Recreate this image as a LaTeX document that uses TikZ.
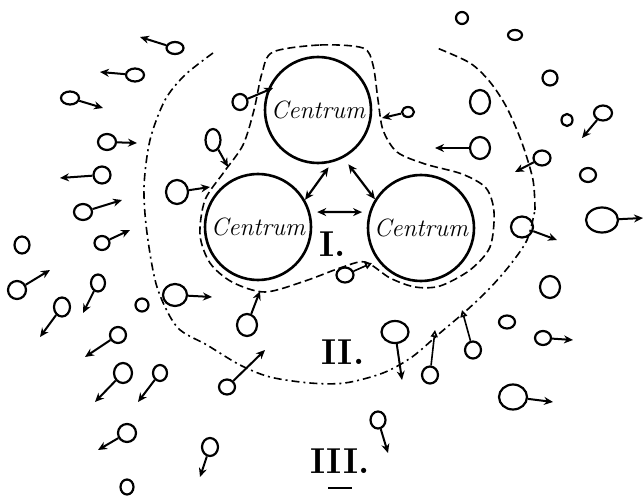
\documentclass[tikz,border=0pt]{standalone}
\usetikzlibrary{arrows.meta,shapes.geometric}
\tikzset{
  centrum/.style={draw,circle,line width=2.6pt,minimum size=106pt,inner sep=0pt,font=\itshape\fontsize{25}{28}\selectfont},
  tad/.style={draw,ellipse,line width=2.2pt,inner sep=0pt},
  tail/.style={line width=2pt,-{Stealth[length=9pt,width=8pt]}},
  opentail/.style={line width=1.6pt,-{Triangle[open,length=7pt,width=7pt]}},
  both/.style={line width=2.2pt,{Stealth[length=9pt,width=8pt]}-{Stealth[length=9pt,width=8pt]}},
  numeral/.style={font=\bfseries\fontsize{36}{40}\selectfont,inner sep=0pt},
  zoneone/.style={line width=1.6pt,dash pattern=on 8pt off 4pt},
  zonetwo/.style={line width=1.6pt,dash pattern=on 8pt off 4pt on 2pt off 4pt},
}
\begin{document}
\begin{tikzpicture}[x=1pt,y=-1pt]
\useasboundingbox (0,0) rectangle (644,497);
% the three centres
\node[centrum] (cTop) at (318,110) {Centrum};
\node[centrum] (cLeft) at (258,227) {Centrum};
\node[centrum] (cRight) at (421,228) {Centrum};
\draw[both,shorten <=6pt] (cTop.-75) -- (cLeft.30);
\draw[both,shorten <=8pt] (cTop.-62) -- (cRight.148);
\draw[both,shorten <=7pt,shorten >=7pt] (cLeft.16) -- (cRight.163);
% zones
\draw[zoneone] plot[smooth cycle] coordinates {(273,52) (320,45) (363,48) (373,65) (378,100) (383,130) (397,152) (425,164) (462,174) (486,188) (494,212) (490,247) (470,270) (440,286) (415,287) (390,278) (365,262) (340,268) (305,281) (265,292) (232,282) (210,263) (200,235) (205,200) (224,172) (243,145) (254,110) (262,73)};
\draw[zonetwo] plot[smooth] coordinates {(213,53) (185,75) (165,100) (150,140) (144,187) (147,233) (157,287) (177,327) (207,345) (240,365) (270,377) (310,383) (345,383) (383,373) (412,357) (440,333) (467,310) (490,288) (510,265) (527,240) (535,210)};
\draw[zoneone] plot[smooth] coordinates {(535,210) (533,180) (522,143) (507,108) (490,82) (470,63) (437,48)};
\node[numeral] (zoneI) at (333,244) {I.};
\node[numeral] (zoneII) at (343,352) {II.};
\node[numeral] (zoneIII) at (340,461) {III.};
\draw[line width=2pt] (328,488) -- (352,488);
% moving particles
\foreach \x/\y/\w/\h/\ex/\ey [count=\i] in {175/48/17/12/140/37, 135/75/18/13/100/72, 70/98/18/13/103/108, 107/142/18/16/137/143, 102/175/17/17/60/178, 83/212/18/16/122/200, 102/243/15/14/130/230, 177/192/22/24/210/187, 213/140/15/22/228/167, 240/102/15/16/273/88, 408/112/12/10/382/118, 480/148/20/22/435/148, 603/113/18/15/582/138, 542/158/17/15/515/172, 602/220/32/25/643/218, 522/227/22/21/557/240, 17/290/18/18/50/270, 62/307/16/19/40/337, 98/283/14/17/83/313, 175/295/24/22/212/297, 247/325/20/22/260/291, 118/335/16/16/85/357, 123/373/18/20/95/402, 160/373/14/16/138/402, 227/387/16/15/265/350, 127/433/18/18/98/450, 210/447/16/18/200/477, 395/332/27/22/402/380, 543/338/16/14/573/340, 513/397/28/25/553/402, 378/420/15/17/388/453}
{\node[tad,minimum width=\w pt,minimum height=\h pt] (t\i) at (\x,\y) {};
 \coordinate (e\i) at (\ex,\ey);
 \draw[tail] (t\i) -- (e\i);}
\foreach \x/\y/\w/\h/\ex/\ey [count=\i] in {345/275/17/15/372/263, 430/375/16/17/435/330, 473/350/16/17/462/310}
{\node[tad,minimum width=\w pt,minimum height=\h pt] (o\i) at (\x,\y) {};
 \coordinate (f\i) at (\ex,\ey);
 \draw[opentail] (o\i) -- (f\i);}
% resting particles
\foreach \x/\y/\w/\h [count=\i] in {22/245/15/17, 480/102/20/24, 462/18/12/12, 515/35/14/10, 550/78/15/15, 567/120/11/12, 588/175/16/14, 142/305/13/13, 127/487/13/15, 507/322/16/13, 550/287/20/22}
{\node[tad,minimum width=\w pt,minimum height=\h pt] (r\i) at (\x,\y) {};}
\end{tikzpicture}
\end{document}
